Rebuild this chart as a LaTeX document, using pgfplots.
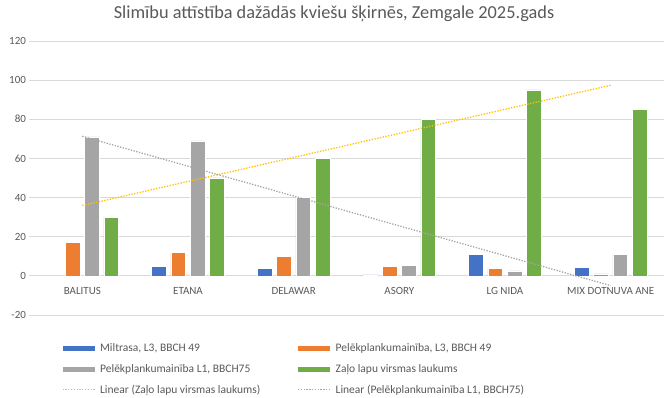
\documentclass[border=0pt]{standalone}
\usepackage{fontspec}
\setmainfont{Carlito}
\usepackage{pgfplots}
\pgfplotsset{compat=1.18}
\definecolor{exblue}{HTML}{4472C4}
\definecolor{exorange}{HTML}{ED7D31}
\definecolor{exgray}{HTML}{A5A5A5}
\definecolor{exgreen}{HTML}{70AD47}
\definecolor{exyellow}{HTML}{FFC000}
\definecolor{txt}{HTML}{595959}
\definecolor{gridc}{HTML}{D9D9D9}
\pgfplotsset{
  barleg/.style={legend image code/.code={\fill[##1,draw=none] (0pt,-2.5pt) rectangle (32pt,2.5pt);\path (35pt,0pt);}},
  yellowleg/.style={legend image code/.code={\draw[draw=exyellow, line width=1.3pt, dash pattern=on 1.3pt off 1.5pt] (0pt,0pt) -- (32pt,0pt);\path (35pt,0pt);}},
  grayleg/.style={legend image code/.code={\draw[draw=exgray, line width=1.3pt, dash pattern=on 1.3pt off 1.5pt] (0pt,0pt) -- (32pt,0pt);\path (35pt,0pt);}},
}
\begin{document}
\begin{tikzpicture}
\path[use as bounding box] (-29.5pt,-83pt) rectangle (641.5pt,315pt);
\begin{axis}[
  at={(0pt,0pt)}, anchor=south west,
  scale only axis, width=634pt, height=274pt,
  xmin=-0.5, xmax=5.5, ymin=-20, ymax=120,
  ytick={-20,0,20,40,60,80,100,120},
  xtick={0,1,2,3,4,5},
  xticklabels={BALITUS, ETANA, DELAWAR, ASORY, LG NIDA, MIX DOTNUVA ANE},
  ymajorgrids, grid style={draw=gridc, line width=0.75pt},
  axis line style={draw=none},
  major tick length=0pt,
  tick label style={font=\fontsize{11}{13}\selectfont, text=txt},
  /pgf/number format/assume math mode=true,
  xticklabel style={yshift=31pt},
  title={Slimību attīstība dažādās kviešu šķirnēs, Zemgale 2025.gads},
  title style={at={(axis description cs:0.4803,1)}, anchor=center, yshift=21pt,
    font=\fontsize{18.3}{22}\selectfont, text=txt},
  legend columns=2,
  legend cell align=left,
  legend style={draw=none, fill=none, at={(axis description cs:0.046,-0.09)}, anchor=north west,
    font=\fontsize{11.5}{13.5}\selectfont, text=txt, row sep=7pt,
    /tikz/every even column/.append style={column sep=35pt}},
]
\addplot[ybar, bar width=0.14, bar shift=-0.274, fill=exblue, draw=white, line width=0.6pt, barleg]
  coordinates {(1,5) (2,4) (3,0.5) (4,11) (5,4.5)};
\addlegendentry{Miltrasa, L3, BBCH 49}
\addplot[ybar, bar width=0.14, bar shift=-0.091, fill=exorange, draw=white, line width=0.6pt, barleg]
  coordinates {(0,17) (1,12) (2,10) (3,5) (4,4) (5,1)};
\addlegendentry{Pelēkplankumainība, L3, BBCH 49}
\addplot[ybar, bar width=0.14, bar shift=0.091, fill=exgray, draw=white, line width=0.6pt, barleg]
  coordinates {(0,71) (1,69) (2,40) (3,5.5) (4,2.5) (5,11)};
\addlegendentry{Pelēkplankumainība L1, BBCH75}
\addplot[ybar, bar width=0.14, bar shift=0.274, fill=exgreen, draw=white, line width=0.6pt, barleg]
  coordinates {(0,30) (1,50) (2,60) (3,80) (4,95) (5,85)};
\addlegendentry{Zaļo lapu virsmas laukums}
\addplot[sharp plot, no markers, draw=exyellow, line width=1.3pt, dash pattern=on 1.3pt off 1.5pt, yellowleg]
  coordinates {(0,35.95) (5,97.38)};
\addlegendentry{Linear (Zaļo lapu virsmas laukums)}
\addplot[sharp plot, no markers, draw=exgray, line width=1.3pt, dash pattern=on 1.3pt off 1.5pt, grayleg]
  coordinates {(0,71.31) (5,-5.0)};
\addlegendentry{Linear (Pelēkplankumainība L1, BBCH75)}
\end{axis}
\end{tikzpicture}
\end{document}
